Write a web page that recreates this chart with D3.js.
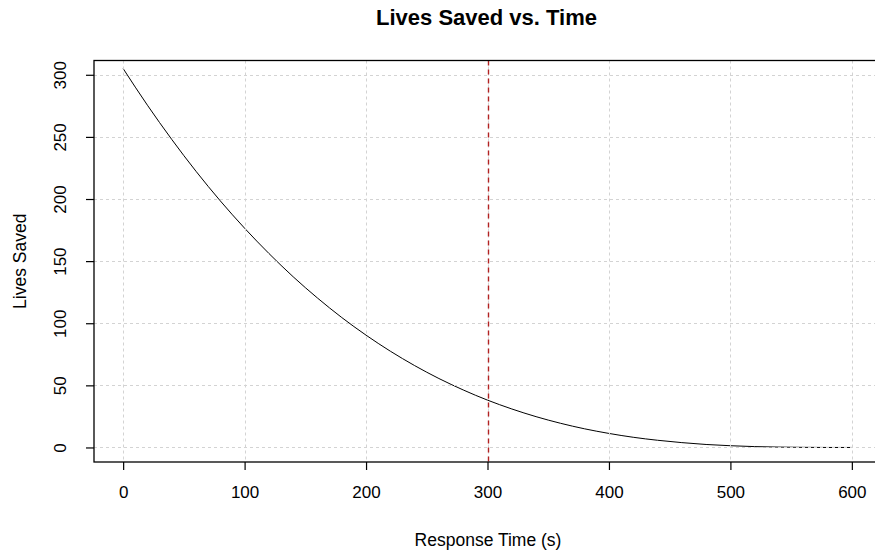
<!DOCTYPE html>
<html>
<head>
<meta charset="utf-8">
<script src="https://cdn.jsdelivr.net/npm/d3@7/dist/d3.min.js"></script>
<style>
  html, body { margin: 0; padding: 0; background: #fff; }
  svg { display: block; font-family: "Liberation Sans", Arial, sans-serif; }
</style>
</head>
<body>
<svg id="chart" width="875" height="552"></svg>
<script>
// Response time (s) and estimated lives saved at each time
const responseTime = [0, 20, 40, 60, 80, 100, 120, 140, 160, 180, 200, 220, 240, 260, 280,
  300, 320, 340, 360, 380, 400, 420, 440, 460, 480, 500, 520, 540, 560, 580, 600];
const livesSaved = [305.0, 275.5, 248.0, 222.3, 198.5, 176.5, 156.2, 137.4, 120.3, 104.6, 90.4,
  77.5, 65.9, 55.5, 46.3, 38.1, 31.0, 24.8, 19.5, 15.0, 11.3, 8.2, 5.8, 3.9, 2.4, 1.4,
  0.7, 0.3, 0.1, 0.0, 0.0];
const xTicks = [0, 100, 200, 300, 400, 500, 600];
const yTicks = [0, 50, 100, 150, 200, 250, 300];
const cutoffTime = 300;

const titleText = "Lives Saved vs. Time";
const xLabel = "Response Time (s)";
const yLabel = "Lives Saved";

const svg = d3.select("#chart");
const plot = { left: 94, right: 881, top: 60.5, bottom: 462 };

const x = d3.scaleLinear().domain([-24, 624]).range([plot.left, plot.right]);
const y = d3.scaleLinear().domain([-11.7, 311.5]).range([plot.bottom, plot.top]);

const data = responseTime.map((t, i) => ({ t, v: livesSaved[i] }));

// curve
svg.append("path")
  .datum(data)
  .attr("fill", "none")
  .attr("stroke", "#000")
  .attr("stroke-width", 1)
  .attr("d", d3.line().x(d => x(d.t)).y(d => y(d.v)).curve(d3.curveMonotoneX));

// dotted grid, drawn over the curve
const grid = svg.append("g").attr("stroke", "#d3d3d3").attr("stroke-width", 1)
  .attr("stroke-dasharray", "3,3").attr("fill", "none");
grid.selectAll("line.vx").data(xTicks).join("line")
  .attr("x1", d => Math.round(x(d)) + 0.5).attr("x2", d => Math.round(x(d)) + 0.5)
  .attr("y1", plot.top).attr("y2", plot.bottom);
grid.selectAll("line.hy").data(yTicks).join("line")
  .attr("y1", d => Math.round(y(d)) + 0.5).attr("y2", d => Math.round(y(d)) + 0.5)
  .attr("x1", plot.left).attr("x2", plot.right);

// cutoff marker
const cx = Math.round(x(cutoffTime)) + 0.5;
svg.append("line")
  .attr("x1", cx).attr("x2", cx)
  .attr("y1", plot.top).attr("y2", plot.bottom)
  .attr("stroke", "#b22222").attr("stroke-width", 1.4)
  .attr("stroke-dasharray", "5,4");

// plot frame
svg.append("rect")
  .attr("x", plot.left).attr("y", plot.top)
  .attr("width", plot.right - plot.left).attr("height", plot.bottom - plot.top)
  .attr("fill", "none").attr("stroke", "#000").attr("stroke-width", 1.3);

// axes
const xAxis = svg.append("g")
  .attr("transform", `translate(0,${plot.bottom})`)
  .call(d3.axisBottom(x).tickValues(xTicks).tickSize(8).tickPadding(16).tickFormat(d3.format("d")));
const yAxis = svg.append("g")
  .attr("transform", `translate(${plot.left},0)`)
  .call(d3.axisLeft(y).tickValues(yTicks).tickSize(8).tickPadding(0).tickFormat(d3.format("d")));

[xAxis, yAxis].forEach(a => {
  a.select(".domain").remove();
  a.selectAll(".tick line").attr("stroke", "#000").attr("stroke-width", 1.2);
  a.selectAll(".tick text").attr("fill", "#000").style("font-size", "17px")
    .style("font-family", "'Liberation Sans', Arial, sans-serif");
});

yAxis.selectAll(".tick text")
  .attr("x", null).attr("dy", null)
  .attr("text-anchor", "middle")
  .attr("transform", "translate(-32,0) rotate(-90)")
  .attr("dominant-baseline", "middle");

// title and labels
svg.append("text")
  .attr("x", (plot.left + 881) / 2 - 1).attr("y", 25)
  .attr("text-anchor", "middle")
  .style("font-size", "22px").style("font-weight", "bold")
  .text(titleText);

svg.append("text")
  .attr("x", 488).attr("y", 546)
  .attr("text-anchor", "middle")
  .style("font-size", "17.5px")
  .text(xLabel);

svg.append("text")
  .attr("transform", `translate(26,${(plot.top + plot.bottom) / 2}) rotate(-90)`)
  .attr("text-anchor", "middle")
  .style("font-size", "17.5px")
  .text(yLabel);
</script>
</body>
</html>
